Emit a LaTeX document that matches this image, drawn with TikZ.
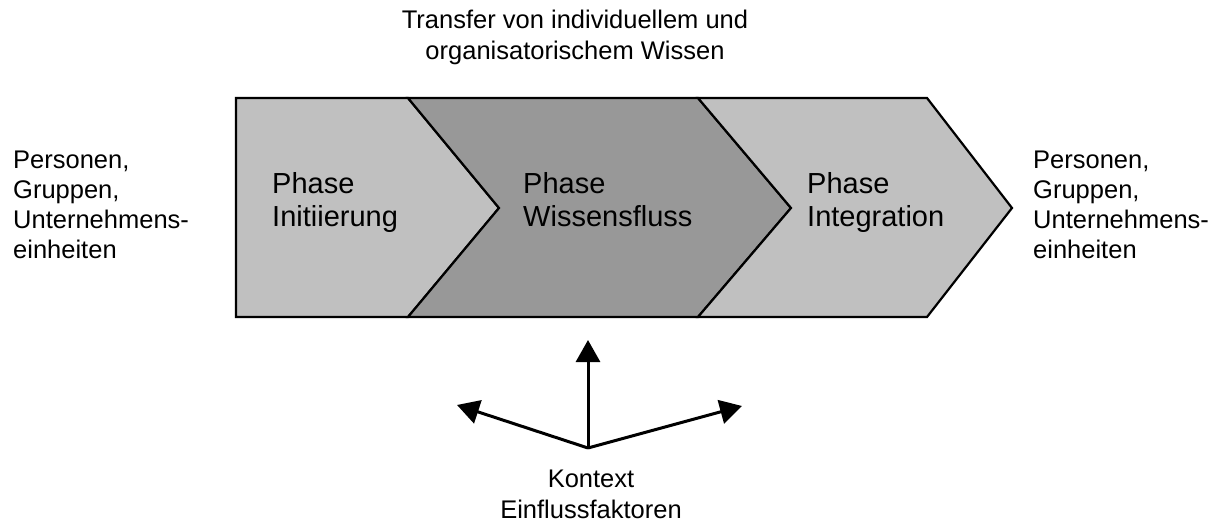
\documentclass[tikz,border=0pt]{standalone}
\usepackage{fontspec}
\setmainfont{Liberation Sans}
\usetikzlibrary{arrows.meta}
\definecolor{phaselight}{RGB}{192,192,192}
\definecolor{phasedark}{RGB}{152,152,152}
\tikzset{
  phasebox/.style={draw=black, line width=2.2pt, line join=miter},
  % multi-line nodes: the base anchor sits on the last line's baseline
  phaselabel/.style={anchor=base west, inner sep=0pt, align=left,
    font=\fontsize{29}{33.5}\selectfont},
  sidelabel/.style={anchor=base west, inner sep=0pt, align=left,
    font=\fontsize{25.5}{30}\selectfont},
  centerlabel/.style={anchor=base, inner sep=0pt, align=center,
    font=\fontsize{25.5}{30.5}\selectfont},
  influence/.style={line width=3pt, -{Triangle[length=22pt,width=24pt]}},
}
\begin{document}
\begin{tikzpicture}[x=1pt,y=-1pt]
\useasboundingbox (0,0) rectangle (1221,521);

% three process phases as chevrons
\path[phasebox, fill=phaselight]
  (236,98) -- (408,98) -- (499,208) -- (408,317) -- (236,317) -- cycle;
\path[phasebox, fill=phasedark]
  (408,98) -- (698,98) -- (791,208) -- (698,317) -- (408,317) -- (499,208) -- cycle;
\path[phasebox, fill=phaselight]
  (698,98) -- (927,98) -- (1012,208) -- (927,317) -- (698,317) -- (791,208) -- cycle;

\node[phaselabel] (ph1) at (272,227) {Phase\\Initiierung};
\node[phaselabel] (ph2) at (523,227) {Phase\\Wissensfluss};
\node[phaselabel] (ph3) at (807,227) {Phase\\Integration};

% headline and the two ends of the transfer
\node[centerlabel] (title) at (575,59.5) {Transfer von individuellem und\\organisatorischem Wissen};
\node[sidelabel] (srcL) at (13,259) {Personen,\\Gruppen,\\Unternehmens-\\einheiten};
\node[sidelabel] (srcR) at (1033,259) {Personen,\\Gruppen,\\Unternehmens-\\einheiten};

% context influences
\coordinate (ctx) at (588,448);
\coordinate (ctxUp) at (588,340);
\coordinate (ctxLeft) at (457,405);
\coordinate (ctxRight) at (742,406);
\draw[influence] (ctx) -- (ctxUp);
\draw[influence] (ctx) -- (ctxLeft);
\draw[influence] (ctx) -- (ctxRight);
\node[centerlabel] (ctxtext) at (591,518) {Kontext\\Einflussfaktoren};
\end{tikzpicture}
\end{document}
